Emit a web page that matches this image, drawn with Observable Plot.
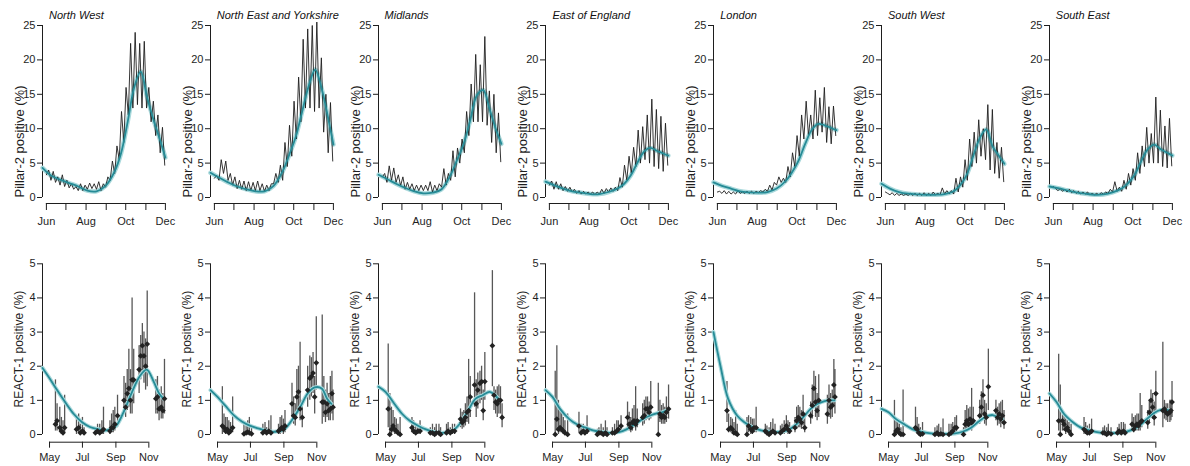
<!DOCTYPE html>
<html><head><meta charset="utf-8">
<script src="https://cdn.jsdelivr.net/npm/d3@7"></script>
<script src="https://cdn.jsdelivr.net/npm/@observablehq/plot@0.6"></script>
<style>
body{margin:0;background:#fff;font-family:"Liberation Sans",Arial,sans-serif;}
#root{position:relative;width:1190px;height:466px;overflow:hidden;background:#fff;}
.panel{position:absolute;}
.title{position:absolute;font-style:italic;font-size:11px;line-height:14px;white-space:nowrap;color:#111;}
</style></head><body><div id="root"></div>
<script>
// ---------- data ----------
const regions = ["North West","North East and Yorkshire","Midlands","East of England","London","South West","South East"];

// Pillar-2 daily positivity, sampled every 3.5 days (alternating weekly trough / peak) from 1 June
const pillarStart = "2020-06-01";
const pillarStepDays = 3.5;
const pillarNW  = [3.3,4.0,2.5,3.8,2.2,3.0,1.8,3.3,1.6, 2.5,1.4,2.0,1.2,1.6,1.0,2.0,1.0,1.8, 1.2,2.1,1.3,2.0,1.2,2.3,1.0,2.0, 1.5,3.0,2.5,5.3,3.5,7.5,5.5,12.5,8, 16,12,22.4,13,24,13.5,22.4,13,22.7,13, 16,11,14,9,12,6.5,10.2,4.7];
const pillarNEY = [2.8,3.2,2.5,5.5,3.5,5.3,2.5,3.5,1.8, 3.0,1.3,2.5,1.2,2.4,1.0,2.3,1.0,2.2, 1.0,2.4,1.0,2.0,0.9,1.8,1.0,2.0, 2.0,3.5,2.2,4.7,2.5,8,4.5,10.5,6, 14,8.5,17.5,11,23,13,24.5,13,25,12.5, 25.5,13,20.3,9.5,15,6.5,13.8,5.3];
const pillarMID = [3.0,3.5,2.2,4.6,2.5,4.3,2.2,3.3,1.7, 3.0,1.2,2.2,1.2,2.0,1.0,1.8,1.0,1.8, 1.0,1.8,1.0,2.3,0.8,1.8,1.0,2.0, 1.5,4.2,1.8,3.5,2.5,6.8,3,7.2,5, 8.5,6.5,12.5,9,16.5,11,20.8,11,19.3,11, 23.4,10.5,15.5,8,15,6.5,12.3,5.2];
const pillarEOE = [1.8,2.4,1.2,2.3,1.2,2.0,1.0,1.6,0.9, 1.5,0.8,1.2,0.6,1.0,0.5,0.9,0.5,0.8, 0.5,0.8,0.4,0.8,0.5,1.2,0.6,1.3, 0.8,1.4,0.9,1.5,1.0,2.9,1.5,4.7,2.5, 6.0,3.5,7.3,4.5,9.8,5,10.3,5.5,12,5, 14.3,4.5,12.8,4.2,11.8,3.8,10.8,4.7];
const pillarLON = [0.8,0.9,0.6,1.0,0.5,0.9,0.5,0.8,0.5, 1.0,0.6,0.8,0.6,0.9,0.6,0.9,0.6,0.9, 0.7,1.0,0.8,1.2,0.9,1.8,1.1,2.2, 1.8,3.0,2.2,2.8,2.2,4.5,3.0,6.5,4.5, 9,6,12,8.5,14,9,12,8.5,15.6,9, 14.5,9.5,16,8,13.2,7.8,13.3,9.0];
const pillarSW  = [0.8,0.6,0.4,0.7,0.3,0.6,0.3,0.5,0.3, 0.5,0.3,0.6,0.3,0.6,0.3,0.6,0.3,0.7, 0.3,0.6,0.3,0.8,0.4,0.6,0.4,1.4, 0.5,1.0,0.5,1.0,0.5,2.8,0.8,3.0,1.5, 5.5,2.5,8.5,4.5,9.5,5,11.3,6,10,5.5, 13.5,4,12.8,3.5,8,2.8,7.3,2.3];
const pillarSE  = [1.6,1.3,1.0,1.3,0.9,1.2,0.8,1.2,0.7, 1.0,0.6,0.9,0.5,0.8,0.5,0.8,0.4,0.6, 0.4,0.6,0.4,0.7,0.5,0.8,0.6,1.2, 0.8,2.3,0.9,1.5,0.9,2.5,1.2,3.5,1.8, 4.2,2.5,6.5,3.5,7.5,4.5,10.2,5,9.3,5, 14.6,5,12.7,4.5,10.4,4.3,11.5,4.6];
const pillarValues = [pillarNW,pillarNEY,pillarMID,pillarEOE,pillarLON,pillarSW,pillarSE];

// Smoothed Pillar-2 model fit
const topSmoothDates = ["2020-05-26","2020-06-08","2020-06-22","2020-07-06","2020-07-20","2020-08-03","2020-08-17","2020-08-31","2020-09-14","2020-09-24","2020-10-04","2020-10-14","2020-10-24","2020-11-03","2020-11-13","2020-11-23","2020-12-01"];
const topSmoothNW  = [4.3,3.2,2.6,2.1,1.6,1.0,0.9,1.7,3.8,6.5,11,16,18.3,14.5,11.2,8.3,5.8];
const topSmoothNEY = [3.6,2.9,2.2,1.6,1.2,0.9,0.9,1.7,3.8,6.2,8.8,12.5,16.2,18.6,15.8,11.5,7.7];
const topSmoothMID = [3.3,2.7,2.0,1.4,0.9,0.6,0.7,1.2,3.3,5.5,7.8,11.2,14.8,15.6,12.8,9.8,7.8];
const topSmoothEOE = [2.3,1.8,1.3,0.9,0.7,0.5,0.5,0.8,1.3,2.0,3.2,5.0,6.6,7.2,6.8,6.4,6.1];
const topSmoothLON = [2.2,1.7,1.3,0.9,0.75,0.7,0.8,1.3,2.4,3.7,5.4,7.8,9.8,10.7,10.5,10.1,9.8];
const topSmoothSW  = [2.0,1.3,0.8,0.55,0.45,0.4,0.4,0.5,0.9,1.8,3.3,6.0,8.6,9.9,7.4,6.0,4.9];
const topSmoothSE  = [1.6,1.35,1.05,0.75,0.55,0.4,0.45,0.75,1.3,2.1,3.3,5.3,7.0,7.7,7.0,6.5,6.1];
const topSmoothValues = [topSmoothNW,topSmoothNEY,topSmoothMID,topSmoothEOE,topSmoothLON,topSmoothSW,topSmoothSE];

// REACT-1 estimates: [days since 1 May, prevalence %, lower, upper]
const reactOrigin = "2020-05-01";
const reactNW = [[11,.3,.1,1.6],[14,.4,.1,.9],[19,.2,.05,.8],[22,.1,0,.5],[25,.05,0,.4],[28,.2,.05,1.15],
 [50,.15,0,.55],[54,.2,.05,.6],[57,.05,0,.3],[61,.1,0,.5],[64,.05,0,.2],
 [85,.05,0,.2],[89,.1,0,.3],[93,.05,0,.3],[97,.1,0,.4],[100,.15,0,.8],
 [112,.1,0,.4],[115,.2,.05,.6],[118,.2,.05,.7],[121,.3,.1,.8],[126,.55,.2,1.15],
 [138,1,.6,1.7],[141,.8,.5,1.5],[144,1.2,.7,1.9],[147,1.35,.8,2.5],[150,1,.6,1.9],[153,1.6,.6,4],[156,1.6,.9,2.5],
 [166,1.9,1.2,2.6],[169,2.3,1.6,2.9],[172,2.6,1.8,3.25],[175,2.3,1.5,3],[178,2,1.3,2.8],[181,2.65,1.4,4.2],
 [197,1.05,.6,1.6],[200,1.1,.6,1.7],[203,.75,.4,1.3],[207,.8,.45,1.4],[210,.7,.45,1.2],[213,1.05,.6,2.2]];
const reactNEY = [[9,.25,0,1.4],[12,.2,.05,.6],[15,.1,0,.5],[18,.15,0,.5],[21,.05,0,.4],[24,.1,0,.35],[28,.2,.05,1.1],
 [49,.02,0,.35],[53,.05,0,.3],[56,.07,0,.4],[59,.05,0,.5],[63,.02,0,.2],
 [84,.05,0,.3],[88,.1,0,.35],[91,.05,0,.2],[95,.1,0,.4],[99,.05,0,.55],
 [113,.1,0,.3],[116,.15,0,.5],[119,.2,.05,.55],[122,.15,0,.45],[125,.25,.05,.7],
 [138,.9,.5,1.5],[141,.55,.3,1.1],[144,.5,.25,.9],[147,1.1,.6,1.9],[150,1.25,.7,2],[153,.75,.4,2.7],[157,.5,.2,1],
 [167,1.3,.8,2],[171,1.65,1,2.3],[174,1.7,1.1,2.25],[177,1.8,1.2,2.4],[180,1.1,.6,1.7],[183,2.1,1.3,3.45],
 [194,.95,.3,3.5],[197,.95,.5,1.7],[200,.65,.35,1.3],[203,.9,.5,1.5],[206,.7,.4,1.2],[209,.75,.4,1.7],[212,1.2,.6,1.85],[214,.8,.4,1.3]];
const reactMID = [[5,.75,.2,2.65],[8,0,0,1.2],[11,.15,0,.8],[14,.25,.05,.7],[17,.15,0,.5],[20,.1,0,.45],[23,.05,0,.3],[27,0,0,.5],
 [49,.2,.05,.5],[52,.1,0,.4],[56,.05,0,.3],[60,.1,0,.3],[64,.1,0,.4],
 [83,.05,0,.2],[87,.05,0,.3],[91,0,0,.2],[94,.05,0,.3],[99,.05,0,.3],[102,0,0,.2],
 [113,.05,0,.3],[116,.1,0,.35],[120,.05,0,.2],[124,.1,0,.3],[128,.1,0,.3],
 [139,.45,.2,.75],[142,.35,.15,.65],[145,.4,.2,.7],[148,.5,.25,.9],[151,.65,.35,1.1],[154,.7,.3,2.2],[157,1.1,.5,1.7],
 [165,1.45,.8,4.15],[168,.9,.5,1.6],[171,1.3,.75,1.8],[175,1.5,.9,1.85],[178,1.55,1,2],[181,.7,.4,1.3],[184,1.55,1,2.4],
 [198,2.6,1.4,4.8],[201,1.15,.7,1.4],[204,.95,.6,1.3],[207,.9,.5,1.4],[210,1,.6,1.45],[213,1,.6,1.4],[216,.5,.2,.9]];
const reactEOE = [[5,0,0,1.85],[8,.45,.1,2.6],[11,.15,0,1],[14,.2,.05,.8],[17,.15,.05,.65],[20,.1,0,.5],[23,.05,0,.4],[28,0,0,.6],
 [49,.25,.05,.65],[53,.05,0,.3],[57,.1,0,.3],[60,.05,0,.2],[64,.1,0,.55],
 [83,0,0,.15],[86,.05,0,.2],[90,.05,0,.3],[94,0,0,.2],[98,.05,0,.4],[101,0,0,.2],
 [111,.05,0,.2],[115,.05,0,.3],[119,.1,0,.4],[122,.15,0,.4],[127,.25,.05,.55],
 [139,.5,.2,.95],[142,.3,.1,.65],[145,.2,.05,.5],[148,.35,.1,.75],[151,.4,.2,.85],[154,.3,.1,1.4],[157,.4,.2,.75],
 [167,.5,.25,.9],[170,.55,.3,1],[173,.75,.4,1.1],[176,.75,.45,1.1],[179,.65,.4,.95],[182,.8,.45,1.55],
 [196,0,0,1.5],[199,.6,.35,1],[202,.5,.3,.85],[205,.55,.3,.9],[208,.5,.3,.8],[211,.65,.35,1.1],[215,.75,.45,1.45]];
const reactLON = [[12,.7,.35,1.55],[15,.15,.05,.6],[19,.2,.05,.5],[22,.15,0,.45],[25,.05,0,.35],[28,.05,0,.7],[31,0,0,.3],
 [49,0,0,.5],[52,.25,.05,.55],[56,.15,0,.5],[59,.1,0,.45],[62,.2,.05,.45],[66,.2,.05,.8],
 [83,.1,0,.3],[86,.05,0,.25],[90,0,0,.2],[93,.05,0,.35],[97,.1,0,.45],[101,.05,0,.3],
 [111,.05,0,.25],[114,.1,0,.3],[118,.15,0,.4],[122,.25,.05,.55],[125,.15,0,.4],[128,.1,0,.35],
 [138,.2,.05,.5],[141,.4,.15,.8],[144,.5,.2,.85],[147,.45,.2,.8],[150,.35,.15,.7],[153,.6,.25,1.15],[156,.2,.05,.6],
 [167,.55,.3,.95],[170,.85,.45,1.45],[173,1.35,.8,1.85],[176,.95,.5,1.7],[179,.7,.4,1.2],[182,1,.5,1.75],
 [198,.6,.3,1.15],[201,1,.5,1.45],[204,.8,.45,1.2],[207,.85,.5,1.3],[210,1.45,.8,2.2],[212,1.1,.6,1.9]];
const reactSW = [[11,0,0,1],[14,.1,0,.4],[17,.15,0,.35],[20,.05,0,.3],[23,0,0,.2],[27,0,0,1.3],
 [50,.2,.05,.8],[53,.15,0,.5],[56,.05,0,.3],[59,0,0,.2],[63,.02,0,.35],
 [86,0,0,.2],[90,.05,0,.25],[93,0,0,.3],[97,.02,0,.2],[101,0,0,.45],
 [112,0,0,.3],[116,.05,0,.3],[119,.1,0,.35],[123,.2,.05,.5],[126,.2,.05,.55],
 [139,0,0,.2],[142,.3,.1,.7],[145,.4,.15,.85],[148,.3,.1,.75],[151,.45,.2,.8],[154,.35,.1,1.35],[157,.4,.2,.8],
 [169,.55,.3,1],[172,.8,.45,1.25],[175,1.15,.6,1.6],[178,.6,.3,1],[181,.5,.25,.9],[185,1.4,.7,2.5],
 [199,.7,.4,1],[202,.5,.25,.8],[205,.6,.3,.9],[208,.45,.2,.95],[211,.55,.3,1],[214,.35,.15,.7]];
const reactSE = [[4,.4,.1,2.35],[7,0,0,1.45],[11,.4,.1,.6],[14,.3,.1,.6],[17,.15,0,.45],[20,.2,.05,.4],[23,.1,0,.35],[27,0,0,.3],
 [51,.15,0,.5],[54,.1,0,.35],[57,.05,0,.25],[61,.05,0,.3],[65,.1,0,.45],
 [86,.05,0,.2],[89,.05,0,.25],[93,0,0,.2],[96,.05,0,.3],[101,.02,0,.2],
 [113,.05,0,.2],[116,.1,0,.3],[120,.05,0,.35],[124,.1,0,.35],[127,.05,0,.3],
 [140,.3,.1,.6],[143,.15,.05,.5],[146,.25,.1,.55],[149,.3,.1,.6],[152,.25,.1,.6],[155,.35,.1,1.2],[158,.4,.2,.85],
 [169,.35,.15,.7],[172,.65,.35,1],[175,1,.55,1.3],[178,.8,.45,1.2],[181,.5,.25,.95],[184,1.2,.6,1.85],
 [197,.7,.2,2.7],[200,.75,.45,1],[203,.65,.4,.9],[206,.6,.35,.9],[210,.65,.35,1],[212,.7,.4,1],[214,.95,.5,1.55]];
const reactValues = [reactNW,reactNEY,reactMID,reactEOE,reactLON,reactSW,reactSE];

// Smoothed REACT-1 model fit
const bottomSmoothDates = ["2020-04-18","2020-05-01","2020-05-15","2020-06-01","2020-06-15","2020-07-01","2020-07-15","2020-08-01","2020-08-15","2020-09-01","2020-09-15","2020-10-01","2020-10-15","2020-10-28","2020-11-10","2020-11-20","2020-11-28"];
const bottomSmoothNW  = [1.95,1.65,1.3,0.9,0.6,0.35,0.22,0.15,0.12,0.25,0.65,1.25,1.7,1.9,1.55,1.2,1.05];
const bottomSmoothNEY = [1.3,1.1,0.85,0.55,0.38,0.25,0.18,0.1,0.08,0.15,0.4,0.8,1.2,1.38,1.35,1.05,0.9];
const bottomSmoothMID = [1.4,1.25,0.95,0.6,0.4,0.25,0.15,0.07,0.05,0.1,0.3,0.7,1.05,1.15,1.25,1.15,1.0];
const bottomSmoothEOE = [1.3,1.1,0.75,0.45,0.3,0.2,0.12,0.07,0.05,0.07,0.15,0.3,0.45,0.55,0.62,0.65,0.7];
const bottomSmoothLON = [3.0,2.0,1.05,0.55,0.35,0.2,0.12,0.08,0.07,0.12,0.25,0.5,0.75,0.9,0.98,1.0,1.0];
const bottomSmoothSW  = [0.75,0.65,0.45,0.28,0.15,0.08,0.04,0.02,0.02,0.03,0.08,0.2,0.38,0.52,0.57,0.5,0.45];
const bottomSmoothSE  = [1.2,0.95,0.6,0.35,0.2,0.12,0.07,0.04,0.04,0.06,0.12,0.25,0.45,0.62,0.72,0.72,0.7];
const bottomSmoothValues = [bottomSmoothNW,bottomSmoothNEY,bottomSmoothMID,bottomSmoothEOE,bottomSmoothLON,bottomSmoothSW,bottomSmoothSE];

// axes
const topMonthTicks = ["2020-06-01","2020-07-01","2020-08-01","2020-09-01","2020-10-01","2020-11-01","2020-12-01"];
const topTickLabels = ["Jun","","Aug","","Oct","","Dec"];
const topYTicks = [0,5,10,15,20,25];
const topYLabel = "Pillar-2 positive (%)";
const bottomMonthTicks = ["2020-05-01","2020-07-01","2020-09-01","2020-11-01"];
const bottomTickLabels = ["May","Jul","Sep","Nov"];
const bottomYTicks = [0,1,2,3,4,5];
const bottomYLabel = "REACT-1 positive (%)";

// ---------- drawing ----------
const TEAL = "#268b96", HALO = "#a9d9dc", INK = "#1e1e1e";
const DAY = 864e5;
const addDays = (s, n) => new Date(Date.parse(s) + n * DAY);
const COL = 167.8;
const root = document.getElementById("root");
const baseStyle = {background: "transparent", overflow: "visible", fontFamily: "'Liberation Sans', Arial, sans-serif", fontSize: "11px", color: INK};

function place(svg, left, top) {
  svg.classList.add("panel");
  svg.style.position = "absolute";
  svg.style.left = left + "px";
  svg.style.top = top + "px";
  root.appendChild(svg);
}

function topPanel(i) {
  const x0 = new Date("2020-05-26"), x1 = new Date("2020-12-03");
  const yMin = -0.87;
  const ticks = topMonthTicks.map(d => new Date(d));
  const lab = new Map(ticks.map((d, j) => [+d, topTickLabels[j]]));
  const series = pillarValues[i].map((v, k) => ({date: addDays(pillarStart, k * pillarStepDays), v}));
  const smooth = topSmoothDates.map((d, j) => ({date: new Date(d), v: topSmoothValues[i][j]}));
  const svg = Plot.plot({
    width: 180, height: 230, marginLeft: 42, marginRight: 13.8, marginTop: 25, marginBottom: 27,
    style: baseStyle,
    x: {type: "utc", domain: [x0, x1]},
    y: {domain: [yMin, 25]},
    marks: [
      Plot.ruleY([yMin], {x1: ticks[0], x2: ticks[ticks.length - 1], stroke: INK, strokeWidth: 1}),
      Plot.ruleX([x0], {y1: 0, y2: 25, stroke: INK, strokeWidth: 1}),
      Plot.axisX(ticks, {tickSize: 7, tickPadding: 7, tickFormat: d => lab.get(+d), stroke: INK, fill: INK}),
      Plot.axisY(topYTicks, {tickSize: 5, tickPadding: 2, label: null, stroke: INK, fill: INK}),
      Plot.line(smooth, {x: "date", y: "v", stroke: HALO, strokeWidth: 4.5, curve: "catmull-rom"}),
      Plot.line(series, {x: "date", y: "v", stroke: INK, strokeWidth: 0.9}),
      Plot.line(smooth, {x: "date", y: "v", stroke: TEAL, strokeWidth: 1.8, curve: "catmull-rom"}),
      Plot.text([topYLabel], {x: x0, y: 0, text: d => d, rotate: -90, textAnchor: "start", dx: -23, fontSize: 13, fill: INK, ariaLabel: "ylabel"})
    ]
  });
  const t = svg.querySelector('g[aria-label="ylabel"] text');
  if (t) { t.setAttribute("textLength", "140"); t.setAttribute("lengthAdjust", "spacingAndGlyphs"); }
  place(svg, COL * i, 0);
}

function bottomPanel(i) {
  const x0 = new Date("2020-04-18"), x1 = new Date("2020-12-03");
  const yMin = -0.226;
  const ticks = bottomMonthTicks.map(d => new Date(d));
  const lab = new Map(ticks.map((d, j) => [+d, bottomTickLabels[j]]));
  const pts = reactValues[i].map(([d, v, lo, hi]) => ({date: addDays(reactOrigin, d), v, lo, hi}));
  const smooth = bottomSmoothDates.map((d, j) => ({date: new Date(d), v: bottomSmoothValues[i][j]}));
  const svg = Plot.plot({
    width: 180, height: 226, marginLeft: 42, marginRight: 14.4, marginTop: 23.3, marginBottom: 24.3,
    style: baseStyle,
    x: {type: "utc", domain: [x0, x1]},
    y: {domain: [yMin, 5]},
    marks: [
      Plot.ruleY([yMin], {x1: ticks[0], x2: ticks[ticks.length - 1], stroke: INK, strokeWidth: 1}),
      Plot.ruleX([x0], {y1: 0, y2: 5, stroke: INK, strokeWidth: 1}),
      Plot.axisX(ticks, {tickSize: 6, tickPadding: 5, tickFormat: d => lab.get(+d), stroke: INK, fill: INK}),
      Plot.axisY(bottomYTicks, {tickSize: 5, tickPadding: 2, label: null, stroke: INK, fill: INK}),
      Plot.ruleX(pts, {x: "date", y1: "lo", y2: "hi", stroke: "#3a3a3a", strokeWidth: 1.3, strokeOpacity: 0.85}),
      Plot.line(smooth, {x: "date", y: "v", stroke: HALO, strokeWidth: 4, curve: "catmull-rom"}),
      Plot.line(smooth, {x: "date", y: "v", stroke: TEAL, strokeWidth: 1.8, curve: "catmull-rom"}),
      Plot.dot(pts, {x: "date", y: "v", symbol: "diamond2", r: 2.6, fill: "#222", stroke: "none"}),
      Plot.text([bottomYLabel], {x: x0, y: 2.5, text: d => d, rotate: -90, textAnchor: "middle", dx: -23, fontSize: 12, fill: INK})
    ]
  });
  place(svg, COL * i, 240);
}

regions.forEach((name, i) => {
  topPanel(i);
  bottomPanel(i);
  const div = document.createElement("div");
  div.className = "title";
  div.textContent = name;
  root.appendChild(div);
  const axisX = 42 + COL * i;
  const w = div.offsetWidth;
  div.style.left = Math.min(axisX + 7, axisX + 130 - w) + "px";
  div.style.top = "8px";
});
</script></body></html>
